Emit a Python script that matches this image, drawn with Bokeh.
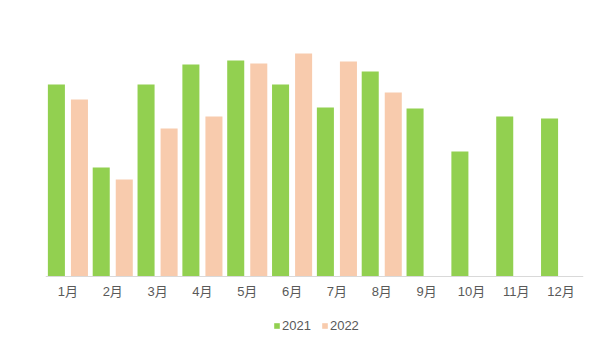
from bokeh.plotting import figure
from bokeh.models import ColumnDataSource, Range1d, FactorRange, Legend, LegendItem
from bokeh.transform import dodge
from bokeh.embed import file_html
from bokeh.resources import INLINE

months = ["1月", "2月", "3月", "4月", "5月", "6月", "7月", "8月", "9月", "10月", "11月", "12月"]
values_2021 = [192, 109, 192, 212, 216, 192, 169, 205, 168, 125, 160, 158]
months_2022 = ["1月", "2月", "3月", "4月", "5月", "6月", "7月", "8月"]
values_2022 = [177, 97, 148, 160, 213, 223, 215, 184]

src21 = ColumnDataSource(dict(m=months, v=values_2021))
src22 = ColumnDataSource(dict(m=months_2022, v=values_2022))

p = figure(x_range=FactorRange(*months), y_range=Range1d(-71, 256),
           frame_width=538, frame_height=327,
           output_backend="svg", toolbar_location=None,
           min_border_left=45, min_border_right=9, min_border_top=20, min_border_bottom=0)

r1 = p.vbar(x=dodge("m", -0.257, range=p.x_range), top="v", width=0.38, source=src21,
            fill_color="#92D050", line_color=None)
r2 = p.vbar(x=dodge("m", 0.257, range=p.x_range), top="v", width=0.38, source=src22,
            fill_color="#F8CBAD", line_color=None)

p.yaxis.visible = False
p.xgrid.grid_line_color = None
p.ygrid.grid_line_color = None
p.outline_line_color = None
p.xaxis.fixed_location = 0
p.xaxis.axis_line_color = "#D9D9D9"
p.xaxis.major_tick_line_color = None
p.xaxis.minor_tick_line_color = None
p.xaxis.major_label_text_font = "Liberation Sans, Noto Sans CJK SC"
p.xaxis.major_label_text_font_size = "13px"
p.xaxis.major_label_text_color = "#595959"
p.xaxis.major_label_standoff = 1

legend = Legend(items=[LegendItem(label="2021", renderers=[r1]),
                       LegendItem(label="2022", renderers=[r2])],
                orientation="horizontal", location=(228, 14),
                glyph_width=7, glyph_height=7, label_standoff=2, spacing=10,
                label_text_font="Liberation Sans", label_text_font_size="13px",
                label_text_color="#595959", border_line_color=None,
                background_fill_alpha=0, padding=4, margin=0)
p.add_layout(legend, "center")

open("out.html", "w").write(file_html(p, INLINE))
